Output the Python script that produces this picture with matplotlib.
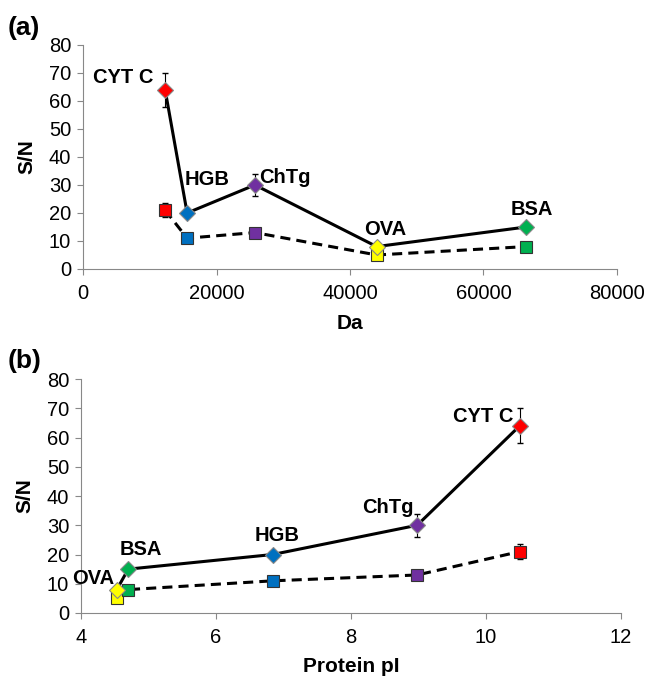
import matplotlib.pyplot as plt

plt.rcParams['font.family'] = ['Liberation Sans', 'DejaVu Sans']

proteins = ['CYT C', 'HGB', 'ChTg', 'OVA', 'BSA']
colors = ['#FF0000', '#0070C0', '#7030A0', '#FFFF00', '#00B050']
mass_da = [12300, 15600, 25750, 44000, 66400]
pi_vals = [10.50, 6.84, 8.98, 4.53, 4.70]
sn_diamond = [64, 20, 30, 8, 15]
err_diamond = [6, 1, 4, 1, 1]
sn_square = [21, 11, 13, 5, 8]
err_square = [2.5, 1, 1, 1, 1]

# label offsets (pixels) for each panel
offs_a = [(-42, 12), (20, 33), (30, 7), (8, 17), (6, 17)]
offs_b = [(-37, 9), (4, 19), (-29, 18), (-24, 11), (13, 20)]

fig = plt.figure(figsize=(6.47, 6.76), dpi=100)
ax_a = fig.add_axes([0.1283, 0.6021, 0.8253, 0.3314])
ax_b = fig.add_axes([0.1252, 0.0932, 0.8346, 0.3461])


def draw(ax, xs, offs):
    order = sorted(range(len(xs)), key=lambda i: xs[i])
    xo = [xs[i] for i in order]
    ax.plot(xo, [sn_diamond[i] for i in order], '-', color='black', lw=2.2, zorder=2)
    ax.plot(xo, [sn_square[i] for i in order], '--', color='black', lw=2.2,
            dashes=(3.3, 2), zorder=2)
    for i in range(len(xs)):
        ax.errorbar(xs[i], sn_diamond[i], yerr=err_diamond[i], fmt='none',
                    ecolor='black', elinewidth=0.8, capsize=2.5, zorder=3)
        ax.errorbar(xs[i], sn_square[i], yerr=err_square[i], fmt='none',
                    ecolor='black', elinewidth=0.8, capsize=2.5, zorder=3)
        ax.plot(xs[i], sn_square[i], 's', ms=8, mfc=colors[i], mec='#333333',
                mew=0.8, zorder=4)
        ax.plot(xs[i], sn_diamond[i], 'D', ms=8, mfc=colors[i], mec='#888888',
                mew=0.8, zorder=5)
        ax.annotate(proteins[i], (xs[i], sn_diamond[i]), xytext=offs[i],
                    textcoords='offset pixels', ha='center', va='center',
                    fontsize=14.5, fontweight='bold')
    for s in ['top', 'right']:
        ax.spines[s].set_visible(False)
    for s in ['left', 'bottom']:
        ax.spines[s].set_color('#888888')
    ax.tick_params(colors='#888888', labelcolor='black', labelsize=14.5, length=4)
    ax.tick_params(axis='x', pad=6.5)
    ax.tick_params(axis='y', pad=4.5)
    ax.set_ylim(0, 80)
    ax.set_yticks(range(0, 81, 10))
    ax.set_ylabel('S/N', fontsize=15, fontweight='bold', labelpad=9)


draw(ax_a, mass_da, offs_a)
ax_a.set_xlim(0, 80000)
ax_a.set_xticks([0, 20000, 40000, 60000, 80000])
ax_a.set_xlabel('Da', fontsize=15, fontweight='bold', labelpad=8)

draw(ax_b, pi_vals, offs_b)
ax_b.set_xlim(4, 12)
ax_b.set_xticks([4, 6, 8, 10, 12])
ax_b.set_xlabel('Protein pI', fontsize=15, fontweight='bold', labelpad=7.5)

fig.text(0.012, 0.958, '(a)', fontsize=19, fontweight='bold', va='center')
fig.text(0.012, 0.466, '(b)', fontsize=19, fontweight='bold', va='center')

fig.savefig('out.png', dpi=100)
